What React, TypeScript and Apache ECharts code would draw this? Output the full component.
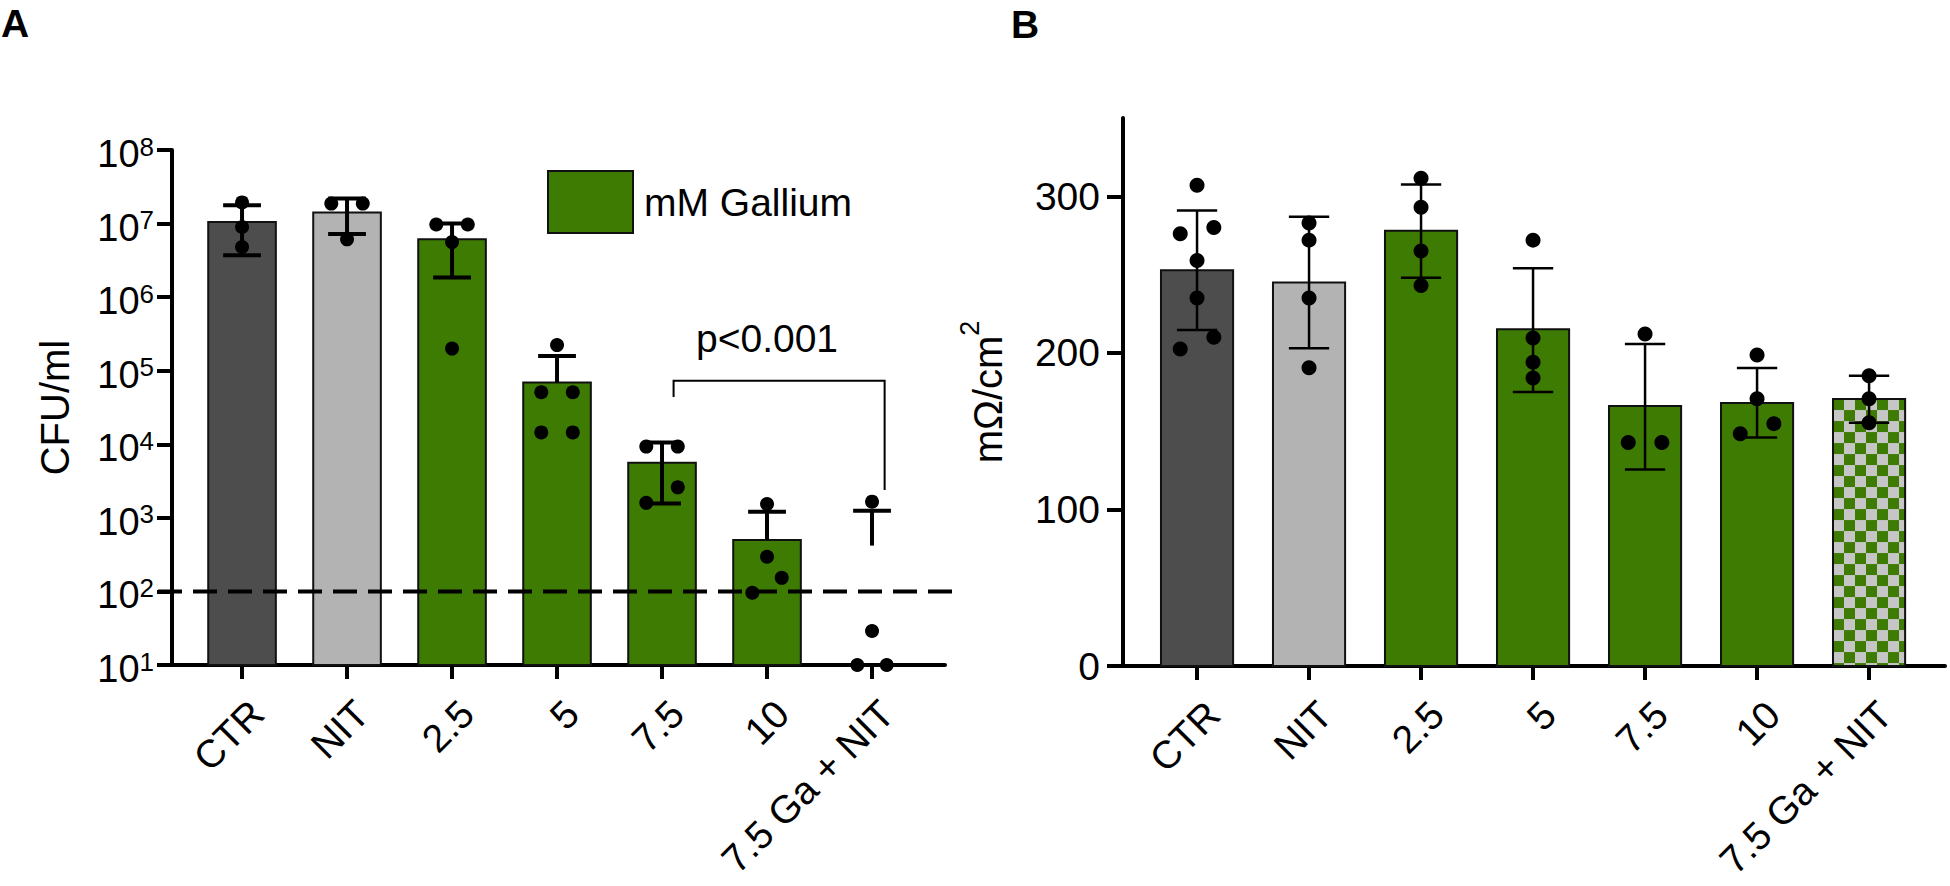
import React, { useEffect, useRef } from "react";
import * as echarts from "echarts";

// ---------- shared categories ----------
const categories = ["CTR", "NIT", "2.5", "5", "7.5", "10", "7.5 Ga + NIT"];

// ---------- Panel A: CFU/ml (log scale) ----------
const cfuMean = [1.05e7, 1.41e7, 6.1e6, 6.9e4, 5.6e3, 500, 420];
const cfuErrUpper = [1.78e7, 2.19e7, 1.0e7, 1.58e5, 1.06e4, 1210, 1250];
const cfuErrLower: (number | null)[] = [3.7e6, 7.2e6, 1.85e6, null, 1570, null, null];
const cfuPoints = [
  [1.94e7, 9.0e6, 4.8e6],
  [1.87e7, 1.87e7, 6.1e6],
  [9.7e6, 9.7e6, 5.6e6, 2.0e5],
  [2.23e5, 5.1e4, 5.1e4, 1.45e4, 1.45e4],
  [9.3e3, 9.3e3, 2.6e3, 1.6e3],
  [1.54e3, 296, 153, 96],
  [1.66e3, 29, 10, 10],
];
// horizontal jitter of the dots, in category units
const cfuPointJitter = [
  [0, 0, 0],
  [-0.15, 0.15, 0],
  [-0.15, 0.15, 0, 0],
  [0, -0.15, 0.15, -0.15, 0.15],
  [-0.15, 0.15, 0.15, -0.15],
  [0, 0, 0.14, -0.14],
  [0, 0, -0.14, 0.14],
];
const detectionLimit = 100;
const bracketX = [4.11, 6.12];
const bracketTop = 7.3e4;
const bracketLegEnds = [4.4e4, 2.4e3];
const pLabel = "p<0.001";
const pLabelAt = [5.0, 2.7e5];
const legendName = "mM Gallium";

// ---------- Panel B: mΩ/cm² ----------
const teerMean = [252.8, 245, 278, 215, 166, 168, 170.5];
const teerErrUpper = [291, 287, 307.6, 254, 205.7, 190.4, 185.4];
const teerErrLower = [214.6, 203, 248, 175, 125.5, 146, 155.4];
const teerPoints = [
  [307, 276, 280, 259, 235, 210, 202.5],
  [283, 272, 235, 190.5],
  [311.5, 293, 265, 243],
  [272, 209.5, 194, 184],
  [212, 142.7, 142.7],
  [198.7, 170.7, 154.8, 148.4],
  [185.4, 170.7, 155.4],
];
const teerPointJitter = [
  [0, -0.15, 0.15, 0, 0, 0.15, -0.15],
  [0, 0, 0, 0],
  [0, 0, 0, 0],
  [0, 0, 0, 0],
  [0, -0.15, 0.15],
  [0, 0, 0.15, -0.15],
  [0, 0, 0],
];
const teerTicks = [0, 100, 200, 300];

// ---------- styles ----------
const FONT = "'Liberation Sans', Arial, Helvetica, sans-serif";
const DARK = "#4d4d4d";
const LIGHT = "#b3b3b3";
const GREEN = "#3e7b03";
const CHECK_GRAY = "#c6c6c6";
const INK = "#000";
const barFillA: (string | null)[] = [DARK, LIGHT, GREEN, GREEN, GREEN, GREEN, null];
const barFillB = [DARK, LIGHT, GREEN, GREEN, GREEN, GREEN, "checker"];
const HALF_BAR = 0.322;
const HALF_CAP = 0.18;
const LABEL_SHIFT = 0.143;

const tickIdx = categories.map((_, i) => i);
const labelPos = categories.map((_, i) => i + LABEL_SHIFT);

function makeX(gridIndex: number, min: number, max: number) {
  return {
    type: "value",
    gridIndex,
    min,
    max,
    splitLine: { show: false },
    axisLine: { show: true, onZero: false, lineStyle: { color: INK, width: 4 } },
    axisTick: { show: true, length: 14, lineStyle: { color: INK, width: 4 }, customValues: tickIdx },
    axisLabel: {
      customValues: labelPos,
      rotate: 45,
      margin: 42,
      fontSize: 39,
      color: INK,
      fontFamily: FONT,
      formatter: (v: number) => categories[Math.round(v)] ?? "",
    },
  };
}

function barRender(fills: (string | null)[], baseValue: number) {
  return (params: any, api: any) => {
    const idx = params.dataIndex;
    const i = api.value(0);
    const v = api.value(1);
    const fill = fills[idx];
    if (!fill) return { type: "group", children: [] };
    const tl = api.coord([i - HALF_BAR, v]);
    const br = api.coord([i + HALF_BAR, baseValue]);
    const x = tl[0];
    const y = tl[1];
    const w = br[0] - tl[0];
    const h = br[1] - tl[1];
    const children: any[] = [];
    if (fill === "checker") {
      children.push({ type: "rect", shape: { x, y, width: w, height: h }, style: { fill: CHECK_GRAY } });
      const s = 11;
      for (let r = 0; r * s < h; r++) {
        for (let c = 0; c * s < w; c++) {
          if ((r + c) % 2 === 0) {
            children.push({
              type: "rect",
              shape: { x: x + c * s, y: y + r * s, width: Math.min(s, w - c * s), height: Math.min(s, h - r * s) },
              style: { fill: GREEN },
            });
          }
        }
      }
      children.push({ type: "rect", shape: { x, y, width: w, height: h }, style: { fill: "none", stroke: "#111", lineWidth: 2 } });
    } else {
      children.push({ type: "rect", shape: { x, y, width: w, height: h }, style: { fill, stroke: "#111", lineWidth: 2 } });
    }
    return { type: "group", children };
  };
}

function errRender(upper: number[], lower: (number | null)[], width: number) {
  return (params: any, api: any) => {
    const idx = params.dataIndex;
    const i = api.value(0);
    const m = api.value(1);
    const pm = api.coord([i, m]);
    const children: any[] = [];
    const ends = [upper[idx], lower[idx]];
    ends.forEach((e) => {
      if (e == null) return;
      const p = api.coord([i, e]);
      const l = api.coord([i - HALF_CAP, e]);
      const r = api.coord([i + HALF_CAP, e]);
      children.push({ type: "line", shape: { x1: pm[0], y1: pm[1], x2: p[0], y2: p[1] }, style: { stroke: INK, lineWidth: width } });
      children.push({ type: "line", shape: { x1: l[0], y1: l[1], x2: r[0], y2: r[1] }, style: { stroke: INK, lineWidth: width } });
    });
    return { type: "group", children };
  };
}

function dots(points: number[][], jitter: number[][]) {
  const out: number[][] = [];
  points.forEach((arr, i) => arr.forEach((v, j) => out.push([i + jitter[i][j], v])));
  return out;
}

const X_A: [number, number] = [-0.667, 6.695];
const X_B: [number, number] = [-0.661, 6.678];

export default function App() {
  const ref = useRef<HTMLDivElement>(null);
  useEffect(() => {
    if (!ref.current) return;
    const chart = echarts.init(ref.current, undefined, { renderer: "svg" });
    const option: any = {
      animation: false,
      textStyle: { fontFamily: FONT, color: INK },
      grid: [
        { left: 172, top: 150, width: 773, height: 515 },
        { left: 1123, top: 118, width: 822, height: 548 },
      ],
      xAxis: [makeX(0, X_A[0], X_A[1]), makeX(1, X_B[0], X_B[1])],
      yAxis: [
        {
          type: "log",
          gridIndex: 0,
          logBase: 10,
          min: 10,
          max: 1e8,
          splitNumber: 7,
          splitLine: { show: false },
          axisLine: { show: true, onZero: false, lineStyle: { color: INK, width: 4 } },
          axisTick: { show: true, length: 15, lineStyle: { color: INK, width: 4 } },
          axisLabel: {
            margin: 18,
            formatter: (v: number) => `{b|10}{s|${Math.round(Math.log10(v))}}`,
            rich: {
              b: { fontSize: 38, lineHeight: 46, height: 38, verticalAlign: "bottom", color: INK, fontFamily: FONT },
              s: { fontSize: 26, height: 39, verticalAlign: "top", color: INK, fontFamily: FONT },
            },
          },
          name: "CFU/ml",
          nameLocation: "middle",
          nameRotate: 90,
          nameGap: 97,
          nameTextStyle: { fontSize: 40, color: INK, fontFamily: FONT },
        },
        {
          type: "value",
          gridIndex: 1,
          min: 0,
          max: 350,
          splitLine: { show: false },
          axisLine: { show: true, onZero: false, lineStyle: { color: INK, width: 4 } },
          axisTick: { show: true, length: 16, lineStyle: { color: INK, width: 4 }, customValues: teerTicks },
          axisLabel: { customValues: teerTicks, margin: 23, fontSize: 39, color: INK, fontFamily: FONT },
          name: "{a|mΩ/cm}{s|2}",
          nameLocation: "middle",
          nameRotate: 90,
          nameGap: 115,
          nameTextStyle: {
            rich: {
              a: { fontSize: 40, lineHeight: 44, height: 40, verticalAlign: "bottom", color: INK, fontFamily: FONT },
              s: { fontSize: 27, height: 12, verticalAlign: "top", color: INK, fontFamily: FONT },
            },
          },
        },
      ],
      legend: {
        show: true,
        left: 547,
        top: 170,
        padding: 0,
        itemWidth: 85,
        itemHeight: 62,
        icon: "rect",
        selectedMode: false,
        itemStyle: { color: GREEN, borderColor: "#111", borderWidth: 2 },
        textStyle: { fontSize: 39, color: INK, fontFamily: FONT, padding: [0, 0, 0, 6] },
        data: [legendName],
      },
      graphic: [
        { type: "text", left: 1, top: 4, style: { text: "A", fontSize: 39, fontWeight: "bold", fontFamily: FONT, fill: INK } },
        { type: "text", left: 1011, top: 5, style: { text: "B", fontSize: 39, fontWeight: "bold", fontFamily: FONT, fill: INK } },
      ],
      series: [
        {
          type: "custom",
          name: "barsA",
          xAxisIndex: 0,
          yAxisIndex: 0,
          data: categories.map((_, i) => [i, cfuMean[i]]),
          encode: { x: 0, y: 1 },
          clip: false,
          renderItem: barRender(barFillA, 10),
        },
        {
          type: "custom",
          name: "errA",
          xAxisIndex: 0,
          yAxisIndex: 0,
          data: categories.map((_, i) => [i, cfuMean[i]]),
          encode: { x: 0, y: 1 },
          clip: false,
          renderItem: errRender(cfuErrUpper, cfuErrLower, 4),
        },
        {
          type: "scatter",
          name: "dotsA",
          xAxisIndex: 0,
          yAxisIndex: 0,
          data: dots(cfuPoints, cfuPointJitter),
          symbol: "circle",
          symbolSize: 14,
          clip: false,
          itemStyle: { color: INK, opacity: 1 },
        },
        {
          type: "custom",
          name: "limit",
          xAxisIndex: 0,
          yAxisIndex: 0,
          data: [[0, detectionLimit]],
          encode: { x: 0, y: 1 },
          clip: false,
          renderItem: (params: any, api: any) => {
            const p0 = api.coord([X_A[0], api.value(1)]);
            const p1 = api.coord([X_A[1], api.value(1)]);
            return {
              type: "line",
              shape: { x1: p0[0] - 14, y1: p0[1], x2: p1[0] + 15, y2: p1[1] },
              style: { stroke: INK, lineWidth: 4, lineDash: [24, 11] },
            };
          },
        },
        {
          type: "custom",
          name: "bracket",
          xAxisIndex: 0,
          yAxisIndex: 0,
          data: [[bracketX[0], bracketTop]],
          encode: { x: 0, y: 1 },
          clip: false,
          renderItem: (params: any, api: any) => {
            const a = api.coord([bracketX[0], bracketLegEnds[0]]);
            const b = api.coord([bracketX[0], bracketTop]);
            const c = api.coord([bracketX[1], bracketTop]);
            const d = api.coord([bracketX[1], bracketLegEnds[1]]);
            const t = api.coord(pLabelAt);
            return {
              type: "group",
              children: [
                { type: "polyline", shape: { points: [a, b, c, d] }, style: { stroke: INK, lineWidth: 2, fill: "none" } },
                {
                  type: "text",
                  x: t[0],
                  y: t[1],
                  style: { text: pLabel, fontSize: 39, fontFamily: FONT, fill: INK, align: "center", verticalAlign: "middle" },
                },
              ],
            };
          },
        },
        {
          type: "bar",
          name: legendName,
          xAxisIndex: 0,
          yAxisIndex: 0,
          data: [],
          itemStyle: { color: GREEN, borderColor: "#111", borderWidth: 2 },
        },
        {
          type: "custom",
          name: "barsB",
          xAxisIndex: 1,
          yAxisIndex: 1,
          data: categories.map((_, i) => [i, teerMean[i]]),
          encode: { x: 0, y: 1 },
          clip: false,
          renderItem: barRender(barFillB, 0),
        },
        {
          type: "custom",
          name: "errB",
          xAxisIndex: 1,
          yAxisIndex: 1,
          data: categories.map((_, i) => [i, teerMean[i]]),
          encode: { x: 0, y: 1 },
          clip: false,
          renderItem: errRender(teerErrUpper, teerErrLower, 2.5),
        },
        {
          type: "scatter",
          name: "dotsB",
          xAxisIndex: 1,
          yAxisIndex: 1,
          data: dots(teerPoints, teerPointJitter),
          symbol: "circle",
          symbolSize: 15,
          clip: false,
          itemStyle: { color: INK, opacity: 1 },
        },
      ],
    };
    chart.setOption(option);
    return () => chart.dispose();
  }, []);
  return (
    <div
      ref={ref}
      style={{ position: "fixed", left: 0, top: 0, width: 1950, height: 886, background: "#fff" }}
    />
  );
}
